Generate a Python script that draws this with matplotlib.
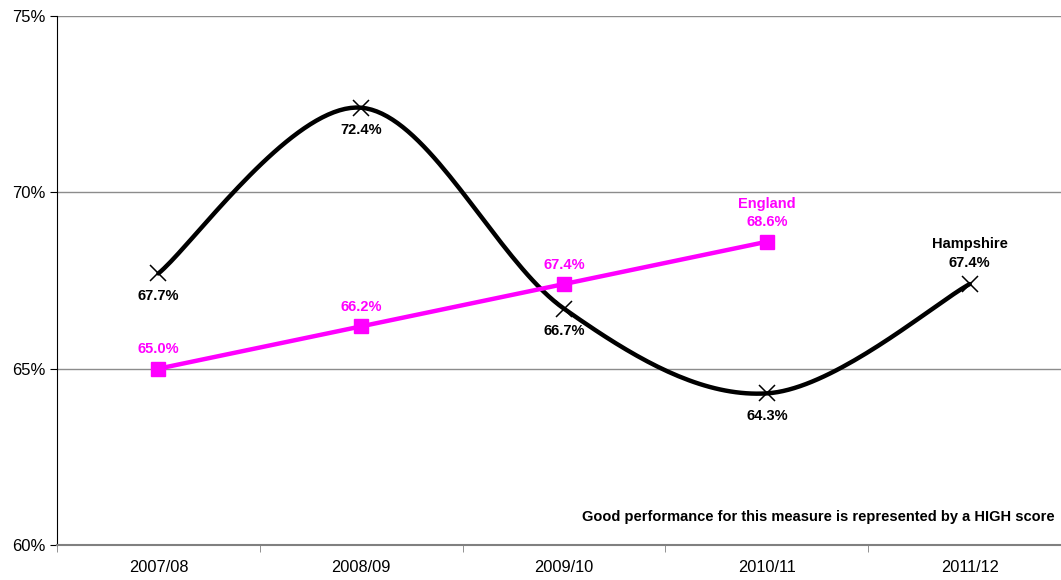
import numpy as np
import matplotlib.pyplot as plt

plt.rcParams['font.family'] = ['Liberation Sans', 'DejaVu Sans']

years = ["2007/08", "2008/09", "2009/10", "2010/11", "2011/12"]
hampshire = [67.7, 72.4, 66.7, 64.3, 67.4]
england = [65.0, 66.2, 67.4, 68.6]

PINK = "#FF00FF"


def smooth(xs, ys, n=40):
    # Bezier smoothing through every point (spreadsheet-style smoothed line)
    xs = np.asarray(xs, float)
    ys = np.asarray(ys, float)
    px = np.concatenate([[xs[0]], xs, [xs[-1]]])
    py = np.concatenate([[ys[0]], ys, [ys[-1]]])
    out_x, out_y = [], []
    t = np.linspace(0, 1, n)
    for i in range(1, len(px) - 2):
        p0 = np.array([px[i], py[i]])
        p3 = np.array([px[i + 1], py[i + 1]])
        p1 = p0 + (np.array([px[i + 1], py[i + 1]]) - np.array([px[i - 1], py[i - 1]])) / 6
        p2 = p3 - (np.array([px[i + 2], py[i + 2]]) - np.array([px[i], py[i]])) / 6
        b = ((1 - t) ** 3)[:, None] * p0 + (3 * (1 - t) ** 2 * t)[:, None] * p1 \
            + (3 * (1 - t) * t ** 2)[:, None] * p2 + (t ** 3)[:, None] * p3
        out_x.extend(b[:, 0])
        out_y.extend(b[:, 1])
    return np.array(out_x), np.array(out_y)


fig = plt.figure(figsize=(10.61, 5.8), dpi=100)
ax = fig.add_axes([0.0537, 0.0603, 0.9463, 0.9121])

xh = np.arange(len(hampshire))
xe = np.arange(len(england))

sx, sy = smooth(xh, hampshire)
ax.plot(sx, sy, color="black", lw=3.2, zorder=3, solid_capstyle="round")
ax.plot(xh, hampshire, ls="none", marker="x", ms=12, mew=1.1, color="black",
        zorder=4)
ax.plot(xe, england, color=PINK, lw=3.2, marker="s", ms=10, zorder=5)

# data labels
for i, v in enumerate(hampshire):
    txt = f"{v:.1f}%"
    if i == len(hampshire) - 1:
        ax.annotate("Hampshire\n" + txt, (i, v), xytext=(0, 10),
                    textcoords="offset points", ha="center", va="bottom",
                    fontsize=10.5, fontweight="bold", linespacing=1.45)
    else:
        ax.annotate(txt, (i, v), xytext=(0, -11), textcoords="offset points",
                    ha="center", va="top", fontsize=10.5, fontweight="bold")

for i, v in enumerate(england):
    txt = f"{v:.1f}%"
    if i == len(england) - 1:
        txt = "England\n" + txt
    ax.annotate(txt, (i, v), xytext=(0, 9), textcoords="offset points",
                ha="center", va="bottom", fontsize=10.5, fontweight="bold",
                color=PINK, linespacing=1.35)

ax.text(0.994, 0.04, "Good performance for this measure is represented by a HIGH score",
        transform=ax.transAxes, ha="right", va="bottom", fontsize=10.5,
        fontweight="bold")

# axes
ax.set_xlim(-0.49, 4.45)
ax.set_ylim(60, 75)
ax.set_yticks([60, 65, 70, 75])
ax.set_yticklabels([f"{t}%" for t in [60, 65, 70, 75]], fontsize=12)
ax.set_xticks(xh)
ax.set_xticklabels(years, fontsize=11.8)
ax.set_xticks(np.arange(-0.5, 4.5, 1), minor=True)
ax.tick_params(axis="x", which="major", length=0, pad=11)
ax.tick_params(axis="x", which="minor", length=5, color="#808080")
ax.tick_params(axis="y", length=5, color="black", pad=3)

for y in [65, 70, 75]:
    ax.axhline(y, color="#8c8c8c", lw=1, zorder=1)

ax.spines["top"].set_visible(False)
ax.spines["right"].set_visible(False)
ax.spines["left"].set_color("black")
ax.spines["bottom"].set_color("#808080")
ax.spines["bottom"].set_linewidth(1.5)

fig.savefig("out.png", dpi=100)
